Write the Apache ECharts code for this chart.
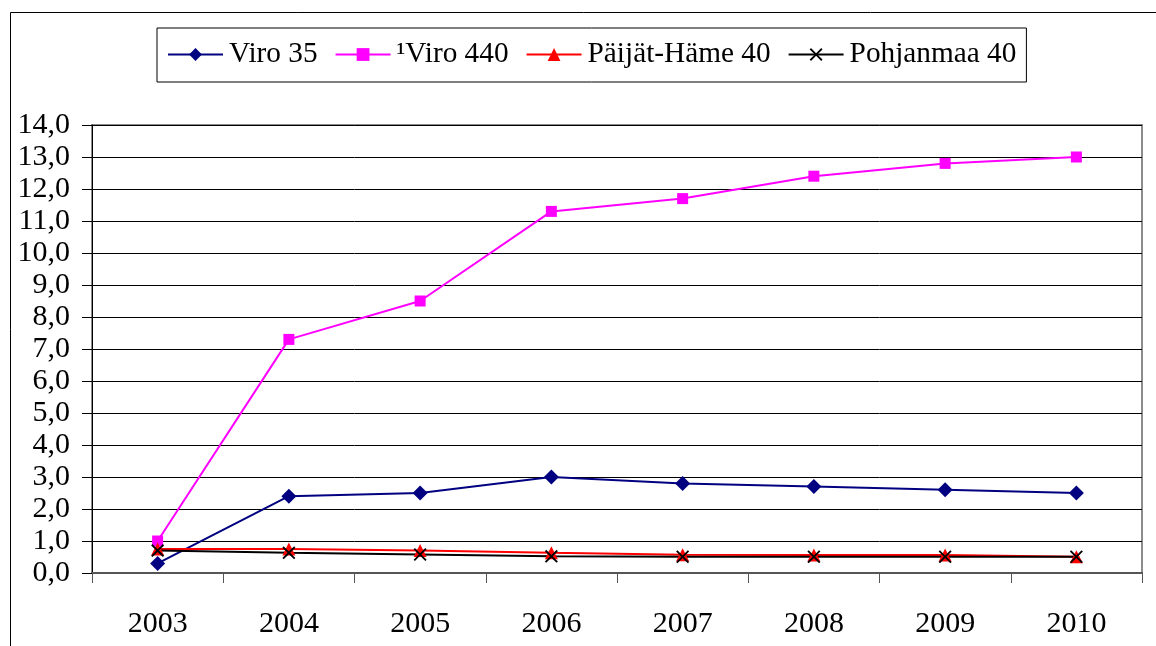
<!DOCTYPE html>
<html>
<head>
<meta charset="utf-8">
<script src="https://cdn.jsdelivr.net/npm/echarts@6/dist/echarts.min.js"></script>
<style>
html,body{margin:0;padding:0;background:#fff;}
#chart{width:1156px;height:646px;}
</style>
</head>
<body>
<div id="chart"></div>
<script>
var years = ['2003','2004','2005','2006','2007','2008','2009','2010'];
var viro35 = [0.3, 2.4, 2.5, 3.0, 2.8, 2.7, 2.6, 2.5];
var viro440 = [1.0, 7.3, 8.5, 11.3, 11.7, 12.4, 12.8, 13.0];
var paijatHame40 = [0.75, 0.75, 0.7, 0.63, 0.57, 0.56, 0.56, 0.51];
var pohjanmaa40 = [0.7, 0.63, 0.58, 0.52, 0.51, 0.51, 0.51, 0.51];
var seriesNames = ['Viro 35', '\u00B9Viro 440', 'P\u00E4ij\u00E4t-H\u00E4me 40', 'Pohjanmaa 40'];

var font = '"Liberation Serif", "Times New Roman", serif';
var xSymbol = 'path://M0,1 L1,0 L5,4 L9,0 L10,1 L6,5 L10,9 L9,10 L5,6 L1,10 L0,9 L4,5 Z';

var chart = echarts.init(document.getElementById('chart'), null, {renderer: 'canvas'});
chart.setOption({
  animation: false,
  backgroundColor: '#fff',
  graphic: [{
    type: 'rect',
    shape: {x: 10.5, y: 12.5, width: 1300, height: 800},
    style: {fill: 'none', stroke: '#000', lineWidth: 1},
    silent: true,
    z: -10
  }],
  legend: {
    left: 157,
    top: 28,
    padding: [12, 10, 13, 10],
    borderColor: '#000',
    borderWidth: 1,
    itemWidth: 55,
    itemHeight: 16,
    itemGap: 17,
    textStyle: {fontFamily: font, fontSize: 29.3, color: '#000', padding: [0, 0, 0, 1]},
    data: seriesNames
  },
  grid: {
    left: 92,
    right: 14,
    top: 125,
    bottom: 73,
    show: true,
    borderColor: '#8c8c8c',
    borderWidth: 2,
    containLabel: false
  },
  xAxis: {
    type: 'category',
    data: years,
    boundaryGap: true,
    axisLine: {show: true, lineStyle: {color: '#555', width: 2}},
    axisTick: {show: true, length: 10, inside: false, lineStyle: {color: '#555', width: 1}},
    axisLabel: {fontFamily: font, fontSize: 30, color: '#000', margin: 36},
    splitLine: {show: false}
  },
  yAxis: {
    type: 'value',
    min: 0,
    max: 14,
    interval: 1,
    axisLine: {show: true, lineStyle: {color: '#000', width: 1}},
    axisTick: {show: true, length: 10, lineStyle: {color: '#000', width: 1}},
    axisLabel: {
      fontFamily: font, fontSize: 30, color: '#000', margin: 22,
      formatter: function (v) { return v.toFixed(1).replace('.', ','); }
    },
    splitLine: {show: true, lineStyle: {color: '#000', width: 1}}
  },
  series: [
    {
      name: seriesNames[0], type: 'line', data: viro35,
      symbol: 'diamond', symbolSize: 15,
      lineStyle: {color: '#000080', width: 2},
      itemStyle: {color: '#000080'}
    },
    {
      name: seriesNames[1], type: 'line', data: viro440,
      symbol: 'rect', symbolSize: 11,
      lineStyle: {color: '#ff00ff', width: 2},
      itemStyle: {color: '#ff00ff'}
    },
    {
      name: seriesNames[2], type: 'line', data: paijatHame40,
      symbol: 'triangle', symbolSize: 13,
      lineStyle: {color: '#ff0000', width: 2},
      itemStyle: {color: '#ff0000'}
    },
    {
      name: seriesNames[3], type: 'line', data: pohjanmaa40,
      symbol: xSymbol, symbolSize: 13,
      lineStyle: {color: '#000', width: 2},
      itemStyle: {color: '#000'}
    }
  ]
});
</script>
</body>
</html>
